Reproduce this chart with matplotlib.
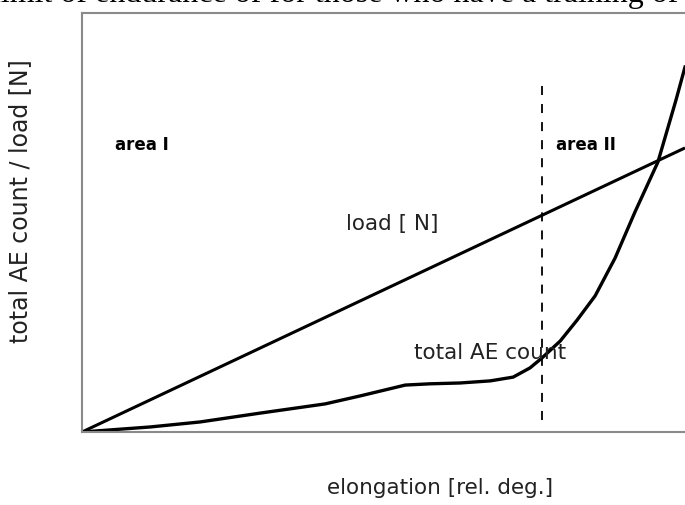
import numpy as np
import matplotlib
matplotlib.use('Agg')
import matplotlib.pyplot as plt

# elongation / load in relative units (0..100)
load_x = [0, 100]
load_y = [0, 67.8]

ae_x = [0, 11.3, 19.6, 29.5, 40.3, 46.1, 53.6, 57.7, 62.7, 67.7, 71.5, 74.3,
        76.3, 79.3, 82.1, 85.1, 88.4, 91.7, 95.5, 98.5, 100]
ae_y = [0, 1.2, 2.4, 4.5, 6.7, 8.6, 11.2, 11.5, 11.7, 12.2, 13.1, 15.3,
        17.7, 21.7, 26.7, 32.5, 41.5, 52.5, 64.4, 79.2, 87.1]

boundary_x = 76.3
boundary_y = [2.9, 82.8]

fig = plt.figure(figsize=(6.85, 5.05), dpi=100)
W, H = 685, 505
ax = fig.add_axes([82 / W, (H - 432) / H, (685 - 82) / W, (432 - 13) / H])

ax.plot(load_x, load_y, color='black', lw=2.2, solid_capstyle='butt')
ax.plot(ae_x, ae_y, color='black', lw=2.4, solid_joinstyle='round')
ax.plot([boundary_x, boundary_x], boundary_y, color='black', lw=1.3,
        linestyle=(0, (5, 5)))

ax.set_xlim(0, 100)
ax.set_ylim(0, 100)
ax.set_xticks([])
ax.set_yticks([])
ax.spines['right'].set_visible(False)
for s in ['left', 'bottom', 'top']:
    ax.spines[s].set_color('#8a8a8a')
    ax.spines[s].set_linewidth(1.5)

# annotations
ax.text(5.5, 68.5, 'area I', fontsize=12, fontweight='bold', va='center', ha='left')
ax.text(78.6, 68.5, 'area II', fontsize=12, fontweight='bold', va='center', ha='left')
ax.text(43.8, 49.6, 'load [ N]', fontsize=15.5, va='center', ha='left', color='#222222')
ax.text(55, 18.8, 'total AE count', fontsize=15.5, va='center', ha='left', color='#222222')

fig.text(440 / W, 1 - 488 / H, 'elongation [rel. deg.]', fontsize=15.5,
         ha='center', va='center', color='#222222')
fig.text(20 / W, 1 - 201 / H, 'total AE count / load [N]', fontsize=17,
         rotation=90, ha='center', va='center', color='#222222')

# cropped caption line above the figure
fig.text(-0.012, 1 - 2 / H, 'limit of endurance of for those who have a training of',
         family='Liberation Serif', fontsize=23, ha='left', va='baseline')

fig.savefig('out.png', dpi=100)
